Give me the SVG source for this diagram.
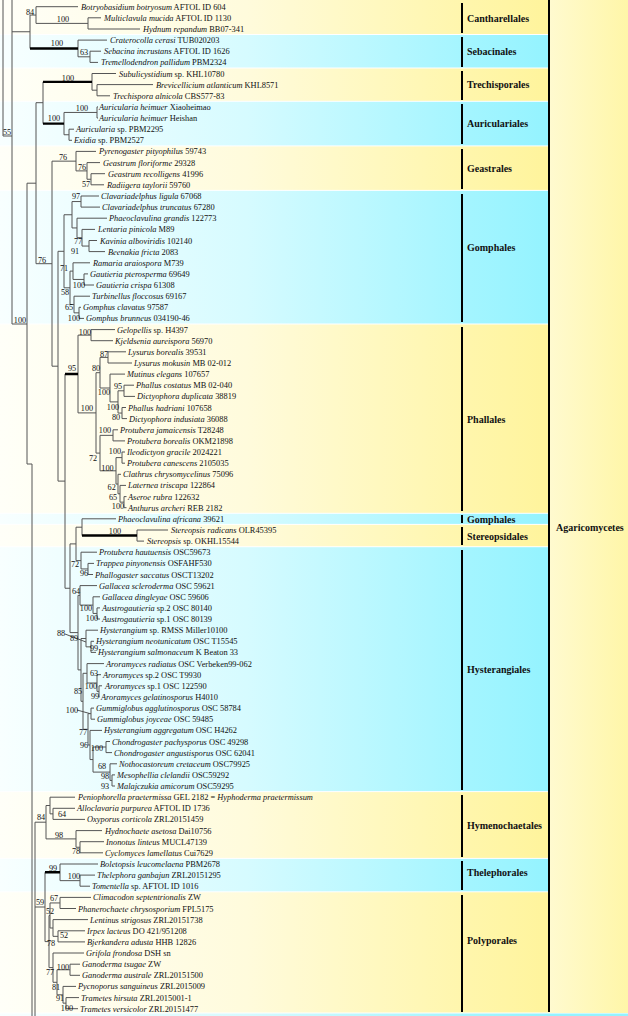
<svg xmlns="http://www.w3.org/2000/svg" width="628" height="1016" viewBox="0 0 628 1016">
<defs>
<linearGradient id="gy" gradientUnits="userSpaceOnUse" x1="0" y1="0" x2="548" y2="0"><stop offset="0" stop-color="#fffff8"/><stop offset="0.45" stop-color="#fffbdc"/><stop offset="0.85" stop-color="#fff6ac"/><stop offset="1" stop-color="#fff49c"/></linearGradient>
<linearGradient id="gc" gradientUnits="userSpaceOnUse" x1="0" y1="0" x2="548" y2="0"><stop offset="0" stop-color="#f8ffff"/><stop offset="0.45" stop-color="#d6fbff"/><stop offset="0.85" stop-color="#a4f5ff"/><stop offset="1" stop-color="#94f3ff"/></linearGradient>
<linearGradient id="ga" gradientUnits="userSpaceOnUse" x1="548" y1="0" x2="628" y2="0"><stop offset="0" stop-color="#fffad0"/><stop offset="1" stop-color="#fff6a8"/></linearGradient>
<style>
.y{fill:url(#gy)}.c{fill:url(#gc)}
.b{stroke:#555;stroke-width:1;fill:none}
.k{stroke:#000;stroke-width:2.4;fill:none}
.bar{stroke:#000;stroke-width:2}
text{font-family:"Liberation Serif","Times New Roman",serif;fill:#111}
.t text{font-size:8.4px}
.i{font-style:italic}
.s{font-size:8.2px;text-anchor:middle}
.o{font-size:10px;font-weight:bold}
</style>
</defs>
<rect width="628" height="1016" fill="#fff"/>
<g id="bands">
<rect class="y" x="0" y="0" width="548" height="34"/>
<rect class="c" x="0" y="35" width="548" height="32.5"/>
<rect class="y" x="0" y="68.5" width="548" height="32.3"/>
<rect class="c" x="0" y="101.8" width="548" height="43.6"/>
<rect class="y" x="0" y="146.4" width="548" height="43.5"/>
<rect class="c" x="0" y="190.9" width="548" height="132.6"/>
<rect class="y" x="0" y="324.5" width="548" height="188.3"/>
<rect class="c" x="0" y="513.8" width="548" height="10.1"/>
<rect class="y" x="0" y="524.9" width="548" height="21.3"/>
<rect class="c" x="0" y="547.2" width="548" height="243.9"/>
<rect class="y" x="0" y="792.1" width="548" height="65.8"/>
<rect class="c" x="0" y="858.9" width="548" height="32.4"/>
<rect class="y" x="0" y="892.3" width="548" height="120.2"/>
<rect class="c" x="0" y="1013.5" width="628" height="3"/>
<rect x="548" y="0" width="80" height="1013" fill="url(#ga)"/>
</g>
<g id="clades">
<path class="bar" d="M462 3V33M462 37V67M462 71V100M462 104V144M462 149V189M462 194V322M462 327V511M462 515V523M462 527V545M462 550V790M462 795V857M462 861V890M462 895V1012M549 0V1012"/>
<text class="o" x="467" y="22">Cantharellales</text>
<text class="o" x="467" y="55">Sebacinales</text>
<text class="o" x="467" y="88">Trechisporales</text>
<text class="o" x="467" y="127">Auriculariales</text>
<text class="o" x="467" y="172">Geastrales</text>
<text class="o" x="467" y="251">Gomphales</text>
<text class="o" x="467" y="423">Phallales</text>
<text class="o" x="467" y="523">Gomphales</text>
<text class="o" x="467" y="540">Stereopsidales</text>
<text class="o" x="467" y="673">Hysterangiales</text>
<text class="o" x="467" y="829">Hymenochaetales</text>
<text class="o" x="467" y="876">Thelephorales</text>
<text class="o" x="467" y="944">Polyporales</text>
<text class="o" x="556" y="531">Agaricomycetes</text>
</g>
<g id="connectors">
<path class="b" d="M3 0V136M3 136H12M12 0V324M12 31.75H30M12 324H27M27 183.2V464M27 183.2H36M27 464H32M32 464V1016
M88 17.8V29M88 17.8H101M88 29H140M36 6.7V23.4M36 6.7H78M36 23.4H88M90 51.2V62.4M90 51.2H101M90 62.4H98M78 40.1V56.8M78 40.1H107M78 56.8H90M30 15.05V48.45M30 15.05H36
M97 84.6V95.8M97 84.6H153M97 95.8H110M92 73.5V90.2M92 73.5H116M92 90.2H97M97 106.9V118M97 106.9H98M97 118H98M69 129.2V140.3M69 129.2H74M69 140.3H72M64 112.45V134.75M64 112.45H97M64 134.75H69M43 81.85V123.6
M36 102.7V263.7M36 102.7H43M36 263.7H52M52 161.15V366.2M52 161.15H76M52 366.2H58M58 251.3V481.1M58 251.3H64M58 481.1H65M65 374V588.25M65 588.25H70
M91 173.7V184.8M91 173.7H105M91 184.8H104M87 162.6V179.25M87 162.6H100M87 179.25H91M76 151.4V170.9M76 151.4H96M76 170.9H87
M81 196V207.1M81 196H99M81 207.1H100M89 240.5V251.6M89 240.5H97M89 251.6H105M82 229.4V246.05M82 229.4H95M82 246.05H89M77 218.2V237.7M77 218.2H107M77 237.7H82M72 201.55V227.95M72 201.55H81M72 227.95H77M84 273.9V285M84 273.9H88M84 285H94M73 262.8V279.45M73 262.8H90M73 279.45H84M79 307.3V318.4M79 307.3H81M79 318.4H84M74 296.2V312.85M74 296.2H90M74 312.85H79M70 271.1V304.5M70 271.1H73M70 304.5H74M64 214.75V287.8M64 214.75H72M64 287.8H70
M91 329.6V340.7M91 329.6H115M91 340.7H113M108 351.8V363M108 351.8H126M108 363H132M124 385.2V396.4M124 385.2H134M124 396.4H135M122 407.5V418.6M122 407.5H126M122 418.6H127M118 390.8V413.05M118 390.8H124M118 413.05H122M110 374.1V401.9M110 374.1H125M110 401.9H118M100 357.4V388M100 357.4H108M100 388H110
M113 429.8V440.9M113 429.8H118M113 440.9H125M122 452V463.2M122 452H125M122 463.2H125M124 496.6V507.7M124 496.6H126.5M124 507.7H126.5M120 485.4V502.15M120 485.4H126M120 502.15H124M118 474.3V493.8M118 474.3H121M118 493.8H120M116 457.6V484.05M116 457.6H122M116 484.05H118M100 435.35V470.8M100 435.35H113M100 470.8H116M96 372.7V453.1M96 372.7H100M96 453.1H100M78 335.15V412.9M78 335.15H91M78 412.9H96
M137 530V541.1M137 530H168M137 541.1H144M82 518.8V535.55M82 518.8H116M88 563.4V574.5M88 563.4H94M88 574.5H93M81 552.2V568.95M81 552.2H97M81 568.95H88M76 527.2V560.6M76 527.2H82M76 560.6H81
M97 607.9V619M97 607.9H100M97 619H100M93 596.8V613.45M93 596.8H100M93 613.45H97M80 585.6V605.1M80 585.6H97M80 605.1H93
M91 641.3V652.4M91 641.3H94M91 652.4H96M86 630.2V646.85M86 630.2H98M86 646.85H91M65 634L86 642
M99 685.8V697M99 685.8H102M99 697H99.5M97 674.7V691.4M97 674.7H101M97 691.4H99M87 663.6V683M87 663.6H104M87 683H97
M91 708.1V719.2M91 708.1H94M91 719.2H95M77 710L90 713.6
M106 741.5V752.6M106 741.5H110M106 752.6H112M112 774.9V786M112 774.9H115M112 786H115M110 763.8V780.45M110 763.8H117M110 780.45H112M93 747V772.1M93 747H106M93 772.1H110M90 730.4V759.55M90 730.4H102M90 759.55H93M88 713.65V745M88 713.65H91M88 745H90
M83 673.3V729.3M83 673.3H87M83 729.3H88M81 638.5V701.3M81 638.5H86M81 701.3H83M78 595.35V669.9M78 595.35H80M78 669.9H81M70 543.9V632.6M70 543.9H76M70 632.6H78
M53 808.3V819.4M53 808.3H75M53 819.4H85M50 797.2V813.85M50 797.2H75M50 813.85H53M80 841.7V852.8M80 841.7H104M80 852.8H103M76 830.6V847.25M76 830.6H102M76 847.25H80M46 805.5V838.9M46 805.5H50M46 838.9H76
M80 875.1V886.2M80 875.1H95M80 886.2H90M60 864V880.65M60 864H98M60 880.65H80
M60 897.4V908.5M60 897.4H91M60 908.5H76M58 930.8V941.9M58 930.8H85M58 941.9H85M53 919.6V936.35M53 919.6H88M53 936.35H58M50 902.95V928M50 902.95H60M50 928H53
M70 964.2V975.3M70 964.2H80M70 975.3H80M66 997.6V1008.7M66 997.6H79M66 1008.7H78M63 986.4V1003.15M63 986.4H76M63 1003.15H66M57 969.75V994.8M57 969.75H70M57 994.8H63M53 953V982.3M53 953H84M53 982.3H57M49 915.5V967.6M49 915.5H50M49 967.6H53M45 872.3V941.6M45 941.6H49
M35 822.2V1016M35 822.2H46M35 907H45"/>
<path class="k" d="M30 48.45H78M43 81.85H92M43 123.6H64M65 374H78M82 535.55H137M45 872.3H60"/>
</g>
<g id="support">
<text class="s" x="30" y="14.7">84</text><text class="s" x="63" y="22">100</text><text class="s" x="57" y="45.7">100</text><text class="s" x="84" y="54.7">63</text>
<text class="s" x="68" y="80.7">100</text><text class="s" x="82" y="111.3">100</text><text class="s" x="54" y="121.3">100</text><text class="s" x="7" y="134.7">55</text>
<text class="s" x="63" y="159.7">76</text><text class="s" x="82" y="169.7">76</text><text class="s" x="86" y="187">57</text><text class="s" x="76" y="199">97</text>
<text class="s" x="78" y="244">77</text><text class="s" x="75" y="254">91</text><text class="s" x="42" y="263">76</text><text class="s" x="64" y="271">71</text>
<text class="s" x="79" y="288">100</text><text class="s" x="65" y="295">58</text><text class="s" x="69" y="310">65</text><text class="s" x="74" y="321">100</text>
<text class="s" x="20" y="323">100</text><text class="s" x="85" y="335">100</text><text class="s" x="104" y="357">87</text><text class="s" x="72" y="371.3">95</text>
<text class="s" x="96" y="371.3">80</text><text class="s" x="118" y="388.7">95</text><text class="s" x="104" y="395.3">100</text><text class="s" x="87" y="410.7">100</text>
<text class="s" x="113" y="409.7">100</text><text class="s" x="116" y="420.3">80</text><text class="s" x="105" y="433">100</text><text class="s" x="115" y="454">100</text>
<text class="s" x="93" y="460.7">72</text><text class="s" x="107.5" y="470.7">100</text><text class="s" x="111.7" y="489.7">62</text><text class="s" x="113" y="499.7">65</text>
<text class="s" x="118" y="509">100</text><text class="s" x="115" y="534">100</text><text class="s" x="75" y="567.3">72</text><text class="s" x="84" y="575.7">96</text>
<text class="s" x="76" y="594">64</text><text class="s" x="86" y="611.3">100</text><text class="s" x="92" y="621.3">100</text><text class="s" x="61" y="635.7">88</text>
<text class="s" x="74" y="641.3">89</text><text class="s" x="94" y="650.7">99</text><text class="s" x="94" y="676.3">63</text><text class="s" x="91" y="688.7">100</text>
<text class="s" x="78" y="693.7">85</text><text class="s" x="95" y="699">99</text><text class="s" x="72" y="713">100</text><text class="s" x="83" y="735.3">77</text>
<text class="s" x="84" y="748">96</text><text class="s" x="97" y="750.7">100</text><text class="s" x="102" y="768.7">68</text><text class="s" x="105" y="778.7">98</text>
<text class="s" x="105" y="789">93</text><text class="s" x="41" y="820.3">84</text><text class="s" x="62" y="817.3">64</text><text class="s" x="59" y="838">98</text>
<text class="s" x="76" y="854">78</text><text class="s" x="53" y="871.3">99</text><text class="s" x="74" y="879">100</text><text class="s" x="54" y="901.3">67</text>
<text class="s" x="40" y="904.7">59</text><text class="s" x="50" y="913.7">52</text><text class="s" x="64" y="938">52</text><text class="s" x="51" y="946.3">78</text>
<text class="s" x="63" y="969.7">100</text><text class="s" x="50" y="974.7">77</text><text class="s" x="56" y="989.7">81</text><text class="s" x="60" y="1000.7">91</text>
<text class="s" x="67" y="1010.7">100</text>
</g>
<g id="taxa" class="t">
<text x="81" y="9.7"><tspan class="i">Botryobasidium botryosum</tspan> AFTOL ID 604</text>
<text x="104" y="20.8"><tspan class="i">Multiclavula mucida</tspan> AFTOL ID 1130</text>
<text x="143" y="32"><tspan class="i">Hydnum repandum</tspan> BB07-341</text>
<text x="110" y="43.1"><tspan class="i">Craterocolla cerasi</tspan> TUB020203</text>
<text x="104" y="54.2"><tspan class="i">Sebacina incrustans</tspan> AFTOL ID 1626</text>
<text x="101" y="65.4"><tspan class="i">Tremellodendron pallidum</tspan> PBM2324</text>
<text x="119" y="76.5"><tspan class="i">Subulicystidium</tspan> sp. KHL10780</text>
<text x="156" y="87.6"><tspan class="i">Brevicellicium atlanticum</tspan> KHL8571</text>
<text x="113" y="98.8"><tspan class="i">Trechispora alnicola</tspan> CBS577-83</text>
<text x="99" y="109.9"><tspan class="i">Auricularia heimuer</tspan> Xiaoheimao</text>
<text x="99" y="121"><tspan class="i">Auricularia heimuer</tspan> Heishan</text>
<text x="76" y="132.2"><tspan class="i">Auricularia</tspan> sp. PBM2295</text>
<text x="74" y="143.3"><tspan class="i">Exidia</tspan> sp. PBM2527</text>
<text x="99" y="154.4"><tspan class="i">Pyrenogaster pityophilus</tspan> 59743</text>
<text x="103" y="165.6"><tspan class="i">Geastrum floriforme</tspan> 29328</text>
<text x="108" y="176.7"><tspan class="i">Geastrum recolligens</tspan> 41996</text>
<text x="107" y="187.8"><tspan class="i">Radiigera taylorii</tspan> 59760</text>
<text x="101" y="199"><tspan class="i">Clavariadelphus ligula</tspan> 67068</text>
<text x="102" y="210.1"><tspan class="i">Clavariadelphus truncatus</tspan> 67280</text>
<text x="109" y="221.2"><tspan class="i">Phaeoclavulina grandis</tspan> 122773</text>
<text x="98" y="232.4"><tspan class="i">Lentaria pinicola</tspan> M89</text>
<text x="100" y="243.5"><tspan class="i">Kavinia alboviridis</tspan> 102140</text>
<text x="108" y="254.6"><tspan class="i">Beenakia fricta</tspan> 2083</text>
<text x="93" y="265.8"><tspan class="i">Ramaria araiospora</tspan> M739</text>
<text x="90" y="276.9"><tspan class="i">Gautieria pterosperma</tspan> 69649</text>
<text x="96" y="288"><tspan class="i">Gautieria crispa</tspan> 61308</text>
<text x="92" y="299.2"><tspan class="i">Turbinellus floccosus</tspan> 69167</text>
<text x="83" y="310.3"><tspan class="i">Gomphus clavatus</tspan> 97587</text>
<text x="86" y="321.4"><tspan class="i">Gomphus brunneus</tspan> 034190-46</text>
<text x="117" y="332.6"><tspan class="i">Gelopellis</tspan> sp. H4397</text>
<text x="115" y="343.7"><tspan class="i">Kjeldsenia aureispora</tspan> 56970</text>
<text x="128" y="354.8"><tspan class="i">Lysurus borealis</tspan> 39531</text>
<text x="134" y="366"><tspan class="i">Lysurus mokusin</tspan> MB 02-012</text>
<text x="127" y="377.1"><tspan class="i">Mutinus elegans</tspan> 107657</text>
<text x="136" y="388.2"><tspan class="i">Phallus costatus</tspan> MB 02-040</text>
<text x="137" y="399.4"><tspan class="i">Dictyophora duplicata</tspan> 38819</text>
<text x="128" y="410.5"><tspan class="i">Phallus hadriani</tspan> 107658</text>
<text x="129" y="421.6"><tspan class="i">Dictyophora indusiata</tspan> 36088</text>
<text x="120" y="432.8"><tspan class="i">Protubera jamaicensis</tspan> T28248</text>
<text x="127" y="443.9"><tspan class="i">Protubera borealis</tspan> OKM21898</text>
<text x="127" y="455"><tspan class="i">Ileodictyon gracile</tspan> 2024221</text>
<text x="127" y="466.2"><tspan class="i">Protubera canescens</tspan> 2105035</text>
<text x="123" y="477.3"><tspan class="i">Clathrus chrysomycelinus</tspan> 75096</text>
<text x="128" y="488.4"><tspan class="i">Laternea triscapa</tspan> 122864</text>
<text x="128" y="499.6"><tspan class="i">Aseroe rubra</tspan> 122632</text>
<text x="128" y="510.7"><tspan class="i">Anthurus archeri</tspan> REB 2182</text>
<text x="118" y="521.8"><tspan class="i">Phaeoclavulina africana</tspan> 39621</text>
<text x="171" y="533"><tspan class="i">Stereopsis radicans</tspan> OLR45395</text>
<text x="147" y="544.1"><tspan class="i">Stereopsis</tspan> sp. OKHL15544</text>
<text x="99" y="555.2"><tspan class="i">Protubera hautuensis</tspan> OSC59673</text>
<text x="96" y="566.4"><tspan class="i">Trappea pinyonensis</tspan> OSFAHF530</text>
<text x="95" y="577.5"><tspan class="i">Phallogaster saccatus</tspan> OSCT13202</text>
<text x="99" y="588.6"><tspan class="i">Gallacea scleroderma</tspan> OSC 59621</text>
<text x="102" y="599.8"><tspan class="i">Gallacea dingleyae</tspan> OSC 59606</text>
<text x="102" y="610.9"><tspan class="i">Austrogautieria</tspan> sp.2 OSC 80140</text>
<text x="102" y="622"><tspan class="i">Austrogautieria</tspan> sp.1 OSC 80139</text>
<text x="100" y="633.2"><tspan class="i">Hysterangium</tspan> sp. RMSS Miller10100</text>
<text x="96" y="644.3"><tspan class="i">Hysterangium neotunicatum</tspan> OSC T15545</text>
<text x="98" y="655.4"><tspan class="i">Hysterangium salmonaceum</tspan> K Beaton 33</text>
<text x="106" y="666.6"><tspan class="i">Aroramyces radiatus</tspan> OSC Verbeken99-062</text>
<text x="103" y="677.7"><tspan class="i">Aroramyces</tspan> sp.2 OSC T9930</text>
<text x="105" y="688.8"><tspan class="i">Aroramyces</tspan> sp.1 OSC 122590</text>
<text x="101" y="700"><tspan class="i">Aroramyces gelatinosporus</tspan> H4010</text>
<text x="96" y="711.1"><tspan class="i">Gummiglobus agglutinosporus</tspan> OSC 58784</text>
<text x="97" y="722.2"><tspan class="i">Gummiglobus joyceae</tspan> OSC 59485</text>
<text x="104" y="733.4"><tspan class="i">Hysterangium aggregatum</tspan> OSC H4262</text>
<text x="112" y="744.5"><tspan class="i">Chondrogaster pachysporus</tspan> OSC 49298</text>
<text x="114" y="755.6"><tspan class="i">Chondrogaster angustisporus</tspan> OSC 62041</text>
<text x="119" y="766.8"><tspan class="i">Nothocastoreum cretaceum</tspan> OSC79925</text>
<text x="117" y="777.9"><tspan class="i">Mesophellia clelandii</tspan> OSC59292</text>
<text x="117" y="789"><tspan class="i">Malajczukia amicorum</tspan> OSC59295</text>
<text x="78" y="800.2"><tspan class="i">Peniophorella praetermissa</tspan> GEL 2182 = <tspan class="i">Hyphoderma praetermissum</tspan></text>
<text x="77" y="811.3"><tspan class="i">Alloclavaria purpurea</tspan> AFTOL ID 1736</text>
<text x="87" y="822.4"><tspan class="i">Oxyporus corticola</tspan> ZRL20151459</text>
<text x="105" y="833.6"><tspan class="i">Hydnochaete asetosa</tspan> Dai10756</text>
<text x="106" y="844.7"><tspan class="i">Inonotus linteus</tspan> MUCL47139</text>
<text x="105" y="855.8"><tspan class="i">Cyclomyces lamellatus</tspan> Cui7629</text>
<text x="100" y="867"><tspan class="i">Boletopsis leucomelaena</tspan> PBM2678</text>
<text x="97" y="878.1"><tspan class="i">Thelephora ganbajun</tspan> ZRL20151295</text>
<text x="92" y="889.2"><tspan class="i">Tomentella</tspan> sp. AFTOL ID 1016</text>
<text x="93" y="900.4"><tspan class="i">Climacodon septentrionalis</tspan> ZW</text>
<text x="78" y="911.5"><tspan class="i">Phanerochaete chrysosporium</tspan> FPL5175</text>
<text x="90" y="922.6"><tspan class="i">Lentinus strigosus</tspan> ZRL20151738</text>
<text x="87" y="933.8"><tspan class="i">Irpex lacteus</tspan> DO 421/951208</text>
<text x="87" y="944.9"><tspan class="i">Bjerkandera adusta</tspan> HHB 12826</text>
<text x="86" y="956"><tspan class="i">Grifola frondosa</tspan> DSH sn</text>
<text x="82" y="967.2"><tspan class="i">Ganoderma tsugae</tspan> ZW</text>
<text x="82" y="978.3"><tspan class="i">Ganoderma australe</tspan> ZRL20151500</text>
<text x="78" y="989.4"><tspan class="i">Pycnoporus sanguineus</tspan> ZRL2015009</text>
<text x="81" y="1000.6"><tspan class="i">Trametes hirsuta</tspan> ZRL2015001-1</text>
<text x="80" y="1011.7"><tspan class="i">Trametes versicolor</tspan> ZRL20151477</text>
</g>
</svg>
